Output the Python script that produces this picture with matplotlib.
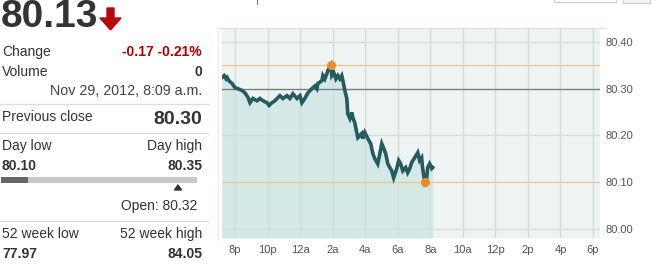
import matplotlib
matplotlib.use("Agg")
import matplotlib.pyplot as plt
from matplotlib.patches import Rectangle, Polygon
from matplotlib.lines import Line2D

# ---------------- data ----------------
# time in hours (20 = 8p, 24 = 12a, 32 = 8a next day)
times = [19.20, 19.33, 19.45, 19.51, 19.63, 19.82, 20.00, 20.18, 20.43, 20.61,
         20.80, 20.92, 21.10, 21.35, 21.53, 21.72, 21.96, 22.09, 22.27, 22.45,
         22.64, 22.76, 22.94, 23.19, 23.37, 23.56, 23.80, 23.99, 24.11, 24.29,
         24.48, 24.72, 24.91, 25.03, 25.09, 25.34, 25.40, 25.52, 25.64, 25.71,
         25.89, 25.95, 26.07, 26.20, 26.32, 26.44, 26.56, 26.63, 26.75, 26.87,
         26.93, 27.06, 27.18, 27.24, 27.36, 27.48, 27.55, 27.79, 27.85, 27.98,
         28.16, 28.34, 28.47, 28.59, 28.77, 28.90, 29.02, 29.14, 29.26, 29.39,
         29.51, 29.63, 29.75, 29.94, 30.06, 30.18, 30.31, 30.49, 30.61, 30.74,
         30.86, 31.04, 31.23, 31.35, 31.47, 31.53, 31.66, 31.78, 31.84, 31.96,
         32.09, 32.15]
prices = [80.324, 80.328, 80.321, 80.324, 80.317, 80.311, 80.302, 80.300, 80.296, 80.291,
          80.281, 80.270, 80.279, 80.274, 80.279, 80.274, 80.270, 80.264, 80.270, 80.274,
          80.281, 80.285, 80.279, 80.285, 80.279, 80.289, 80.279, 80.285, 80.270, 80.279,
          80.291, 80.300, 80.306, 80.300, 80.311, 80.317, 80.328, 80.321, 80.332, 80.339,
          80.350, 80.328, 80.334, 80.321, 80.328, 80.321, 80.328, 80.317, 80.296, 80.279,
          80.246, 80.236, 80.249, 80.238, 80.227, 80.206, 80.195, 80.204, 80.193, 80.206,
          80.193, 80.182, 80.161, 80.150, 80.139, 80.161, 80.182, 80.172, 80.161, 80.139,
          80.131, 80.124, 80.109, 80.129, 80.146, 80.139, 80.124, 80.131, 80.120, 80.129,
          80.142, 80.152, 80.163, 80.146, 80.152, 80.129, 80.100, 80.109, 80.131, 80.139,
          80.129, 80.131]

high_time, day_high = 25.89, 80.35
low_time, day_low = 31.66, 80.10
prev_close = 80.30

x_ticks = [20, 22, 24, 26, 28, 30, 32, 34, 36, 38, 40, 42]
x_labels = ["8p", "10p", "12a", "2a", "4a", "6a", "8a", "10a", "12p", "2p", "4p", "6p"]
y_ticks = [80.00, 80.10, 80.20, 80.30, 80.40]
y_labels = ["80.00", "80.10", "80.20", "80.30", "80.40"]
grid_y = [80.00, 80.20, 80.40]

last_price = "80.13"
change_txt = "-0.17 -0.21%"
volume_txt = "0"
date_txt = "Nov 29, 2012, 8:09 a.m."
prev_close_txt = "80.30"
day_low_txt, day_high_txt = "80.10", "80.35"
open_txt = "Open: 80.32"
wk_low_txt, wk_high_txt = "77.97", "84.05"

# ---------------- figure ----------------
W, H = 656, 265
plt.rcParams['font.family'] = ['Liberation Sans', 'DejaVu Sans']
fig = plt.figure(figsize=(W / 100, H / 100), dpi=100)
fig.patch.set_facecolor("white")


def fx(x):
    return x / W


def fy(y):
    return 1 - y / H


ax = fig.add_axes([fx(222), fy(238), fx(600) - fx(222), fy(28) - fy(238)])
ax.set_facecolor("#eef4f1")
ax.set_xlim(19.2, 42.43)
ax.set_ylim(79.98, 80.43)

for gx in x_ticks:
    ax.axvline(gx, color="#d3dedb", lw=1.0, zorder=2)
for gy in grid_y:
    ax.axhline(gy, color="#d3dedb", lw=1.0, zorder=2)

ax.fill_between(times, prices, 79.98, color="#d4e8e5", lw=0, zorder=1)
ax.axhline(day_high, color="#f3c291", lw=0.9, zorder=3)
ax.axhline(day_low, color="#f3c291", lw=0.9, zorder=3)
ax.axhline(prev_close, color="#7a7f7e", lw=1.0, zorder=3)
ax.plot(times, prices, color="#245b5e", lw=2.6, solid_joinstyle="miter", zorder=4)
ax.plot([high_time, low_time], [day_high, day_low], "o", color="#ea8a2a",
        ms=5.5, mec="#ea8a2a", zorder=5)

ax.set_xticks(x_ticks)
ax.set_xticklabels(x_labels)
ax.set_yticks(y_ticks)
ax.set_yticklabels(y_labels)
ax.yaxis.tick_right()
ax.tick_params(axis="both", length=0, labelsize=8, labelcolor="#555555")
ax.tick_params(axis="x", pad=5)
ax.tick_params(axis="y", pad=4)
for s in ax.spines.values():
    s.set_visible(False)

# chart frame lines
fig.add_artist(Line2D([fx(218), fx(606)], [fy(28), fy(28)], color="#dcdcdc", lw=0.8))
fig.add_artist(Line2D([fx(218), fx(218)], [fy(30), fy(240)], color="#ececec", lw=0.8))
# cut-off widgets at top right
fig.add_artist(Rectangle((fx(554), fy(2)), fx(616) - fx(554), fy(-3) - fy(2),
                         fill=False, ec="#cccccc", lw=0.8))
fig.add_artist(Rectangle((fx(623), fy(3)), fx(650) - fx(623), fy(-3) - fy(3),
                         fc="#f4f4f4", ec="#cccccc", lw=0.8))
fig.add_artist(Line2D([fx(257), fx(257)], [fy(0), fy(4)], color="#777777", lw=0.8))

# ---------------- left panel ----------------
dark = "#333333"
red = "#b00000"
R = 202

fig.text(fx(1), fy(17), last_price, fontsize=28, fontweight="bold", color=dark,
         ha="left", va="center")
# red down arrow
arrow = Polygon([(fx(107), fy(8)), (fx(114), fy(8)), (fx(114), fy(18)), (fx(121), fy(18)),
                 (fx(110.5), fy(30)), (fx(100), fy(18)), (fx(107), fy(18))],
                closed=True, color="#b5080a", transform=fig.transFigure)
fig.add_artist(arrow)

fs = 10
fig.text(fx(2), fy(52), "Change", fontsize=fs, color=dark, va="center")
fig.text(fx(R), fy(52), change_txt, fontsize=fs, color=red, fontweight="bold",
         ha="right", va="center")
fig.text(fx(2), fy(72), "Volume", fontsize=fs, color=dark, va="center")
fig.text(fx(R), fy(72), volume_txt, fontsize=fs, color=dark, fontweight="bold",
         ha="right", va="center")
fig.text(fx(R), fy(91), date_txt, fontsize=fs + 0.3, color="#444444", ha="right", va="center")

fig.add_artist(Line2D([fx(0), fx(208)], [fy(104), fy(104)], color="#dddddd", lw=0.9))
fig.text(fx(2), fy(117), "Previous close", fontsize=fs, color=dark, va="center")
fig.text(fx(R), fy(120), prev_close_txt, fontsize=14, color=dark, fontweight="bold",
         ha="right", va="center")
fig.add_artist(Line2D([fx(0), fx(208)], [fy(133), fy(133)], color="#dddddd", lw=0.9))

fig.text(fx(2), fy(146), "Day low", fontsize=fs, color=dark, va="center")
fig.text(fx(R), fy(146), "Day high", fontsize=fs, color=dark, ha="right", va="center")
fig.text(fx(2), fy(166), day_low_txt, fontsize=fs, color=dark, fontweight="bold", va="center")
fig.text(fx(R), fy(166), day_high_txt, fontsize=fs, color=dark, fontweight="bold",
         ha="right", va="center")

fig.add_artist(Rectangle((fx(1), fy(183)), fx(197) - fx(1), fy(177) - fy(183),
                         color="#c9c9c9", lw=0))
fig.add_artist(Rectangle((fx(1), fy(183)), fx(28) - fx(1), fy(177) - fy(183),
                         color="#666666", lw=0))
fig.add_artist(Polygon([(fx(174.5), fy(190)), (fx(181.5), fy(190)), (fx(178), fy(185))],
                       closed=True, color=dark, transform=fig.transFigure))
fig.text(fx(197), fy(206), open_txt, fontsize=fs, color=dark, ha="right", va="center")

fig.add_artist(Line2D([fx(0), fx(208)], [fy(221), fy(221)], color="#dddddd", lw=0.9))
fig.text(fx(2), fy(234), "52 week low", fontsize=fs, color=dark, va="center")
fig.text(fx(R), fy(234), "52 week high", fontsize=fs, color=dark, ha="right", va="center")
fig.text(fx(2), fy(254), wk_low_txt, fontsize=fs, color=dark, fontweight="bold", va="center")
fig.text(fx(R), fy(254), wk_high_txt, fontsize=fs, color=dark, fontweight="bold",
         ha="right", va="center")

fig.savefig("out.png", dpi=100, facecolor="white")
